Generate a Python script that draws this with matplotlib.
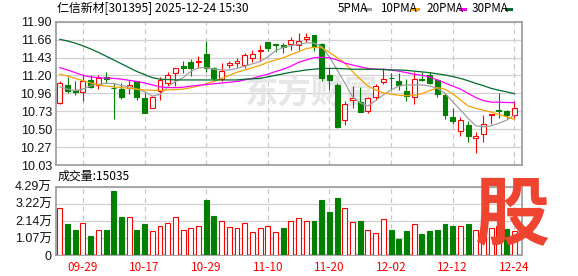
import numpy as np
import matplotlib.pyplot as plt
from matplotlib.lines import Line2D

plt.rcParams['font.family'] = ['Liberation Sans', 'Noto Sans CJK SC']

W, H = 578, 276

# daily OHLC, 2025-09-24 .. 2025-12-24
opens = [10.84, 11.07, 11.01, 10.98, 11.14, 11.07, 11.18, 11.04, 11.02, 11.03,
         11.12, 10.91, 10.78, 11.00, 11.10, 11.23, 11.32, 11.37, 11.37, 11.48,
         11.29, 11.15, 11.33, 11.36, 11.34, 11.42, 11.52, 11.64, 11.61, 11.60,
         11.61, 11.60, 11.67, 11.72, 11.61, 11.20, 11.08, 10.62, 10.88, 10.85,
         10.74, 10.92, 11.11, 11.17, 11.12, 10.99, 10.92, 11.15, 11.20, 11.14,
         10.94, 10.65, 10.48, 10.55, 10.38, 10.43, 10.68, 10.75, 10.73, 10.68]
closes = [11.10, 11.00, 10.98, 11.13, 11.05, 11.16, 11.15, 11.03, 10.92, 11.07,
          10.92, 10.71, 10.92, 11.14, 11.21, 11.29, 11.30, 11.30, 11.39, 11.30,
          11.16, 11.26, 11.36, 11.39, 11.47, 11.48, 11.53, 11.56, 11.60, 11.57,
          11.66, 11.65, 11.70, 11.58, 11.17, 11.14, 10.53, 10.82, 10.90, 10.72,
          10.91, 11.06, 11.15, 11.16, 11.07, 10.93, 11.15, 11.14, 11.10, 10.96,
          10.68, 10.61, 10.62, 10.41, 10.41, 10.57, 10.69, 10.73, 10.68, 10.78]
highs = [11.13, 11.18, 11.13, 11.20, 11.20, 11.20, 11.24, 11.10, 11.10, 11.14,
         11.13, 10.97, 10.93, 11.18, 11.25, 11.29, 11.39, 11.41, 11.45, 11.65,
         11.31, 11.36, 11.39, 11.42, 11.49, 11.53, 11.60, 11.64, 11.61, 11.62,
         11.70, 11.75, 11.75, 11.73, 11.62, 11.29, 11.10, 10.87, 11.06, 11.05,
         10.92, 11.09, 11.29, 11.23, 11.23, 11.15, 11.24, 11.25, 11.25, 11.15,
         10.97, 10.78, 10.65, 10.60, 10.46, 10.68, 10.70, 10.97, 10.75, 10.86]
lows = [10.83, 10.97, 10.94, 10.86, 11.04, 11.02, 11.10, 10.63, 10.89, 10.96,
        10.88, 10.71, 10.78, 10.88, 11.05, 11.06, 11.23, 11.19, 11.30, 11.25,
        11.12, 11.12, 11.29, 11.31, 11.29, 11.38, 11.39, 11.52, 11.50, 11.49,
        11.53, 11.53, 11.63, 11.52, 11.12, 11.01, 10.51, 10.55, 10.77, 10.72,
        10.71, 10.88, 11.09, 11.01, 11.01, 10.86, 10.83, 11.12, 11.09, 10.92,
        10.63, 10.57, 10.41, 10.33, 10.19, 10.33, 10.57, 10.64, 10.63, 10.64]

ma5 = [11.05, 11.02, 11.00, 11.02, 11.065, 11.085, 11.095, 11.095, 11.065, 11.05,
       11.02, 10.985, 10.93, 10.95, 11.05, 11.12, 11.17, 11.25, 11.30, 11.30,
       11.28, 11.27, 11.27, 11.29, 11.32, 11.35, 11.38, 11.44, 11.52, 11.565,
       11.59, 11.60, 11.625, 11.62, 11.575, 11.44, 11.27, 11.10, 10.92, 10.84,
       10.80, 10.87, 10.945, 11.01, 11.06, 11.075, 11.075, 11.075, 11.06, 11.03,
       10.965, 10.855, 10.75, 10.64, 10.54, 10.53, 10.54, 10.575, 10.615, 10.68]
ma10 = [11.217, 11.19, 11.16, 11.13, 11.10, 11.075, 11.06, 11.05, 11.04, 11.03,
        11.02, 11.01, 11.005, 11.005, 11.01, 11.015, 11.02, 11.04, 11.06, 11.09,
        11.12, 11.16, 11.20, 11.24, 11.27, 11.30, 11.33, 11.37, 11.40, 11.43,
        11.47, 11.51, 11.55, 11.565, 11.56, 11.50, 11.43, 11.36, 11.25, 11.15,
        11.06, 11.01, 10.97, 10.955, 10.94, 10.935, 10.94, 10.96, 11.00, 11.04,
        11.02, 10.96, 10.88, 10.80, 10.77, 10.745, 10.72, 10.69, 10.66, 10.625]
ma20 = [11.30, 11.27, 11.235, 11.20, 11.18, 11.17, 11.165, 11.16, 11.15, 11.135,
        11.12, 11.10, 11.075, 11.05, 11.04, 11.04, 11.045, 11.06, 11.07, 11.08,
        11.09, 11.10, 11.11, 11.12, 11.14, 11.16, 11.19, 11.215, 11.25, 11.28,
        11.32, 11.37, 11.40, 11.43, 11.435, 11.43, 11.40, 11.36, 11.335, 11.31,
        11.29, 11.28, 11.28, 11.27, 11.255, 11.235, 11.215, 11.20, 11.18, 11.14,
        11.10, 11.06, 11.02, 10.965, 10.91, 10.87, 10.85, 10.85, 10.845, 10.845]
ma30 = [11.67, 11.648, 11.62, 11.585, 11.545, 11.50, 11.45, 11.40, 11.35, 11.30,
        11.25, 11.21, 11.17, 11.15, 11.145, 11.14, 11.14, 11.14, 11.14, 11.14,
        11.14, 11.14, 11.14, 11.14, 11.15, 11.155, 11.16, 11.18, 11.20, 11.22,
        11.24, 11.255, 11.27, 11.28, 11.29, 11.29, 11.29, 11.285, 11.28, 11.28,
        11.28, 11.28, 11.275, 11.27, 11.27, 11.265, 11.255, 11.245, 11.235, 11.22,
        11.205, 11.185, 11.16, 11.13, 11.095, 11.065, 11.03, 11.005, 10.985, 10.96]

# volume in 万手, colour R = up day, G = down day
vol = [2.93, 1.95, 1.57, 1.99, 1.19, 1.57, 1.57, 4.02, 2.39, 2.37,
       1.57, 1.95, 1.51, 1.82, 1.99, 2.37, 1.55, 1.70, 1.82, 3.46,
       2.45, 2.11, 1.76, 1.70, 1.99, 1.44, 1.70, 1.82, 1.44, 1.70,
       2.11, 2.32, 2.14, 2.14, 3.46, 2.72, 3.60, 2.93, 2.05, 2.14,
       1.57, 1.36, 2.26, 1.57, 1.01, 1.51, 1.93, 1.32, 1.51, 1.57,
       1.95, 1.82, 1.82, 1.95, 1.60, 1.59, 1.70, 1.80, 1.65, 1.50]
vol_dir = "RGGRGRGGGRGGRRRRRRRGGRRRRRRRRGRRRGGGGRRGRRRGGGRGGGGGRGRRRRGR"

tick_idx = [3, 11, 19, 27, 35, 43, 51, 59]
tick_lbl = ['09-29', '10-17', '10-29', '11-10', '11-20', '12-02', '12-12', '12-24']
price_lbl = ['10.03', '10.27', '10.50', '10.73', '10.96', '11.20', '11.43', '11.66', '11.90']
vol_ticks = [0, 1.07, 2.14, 3.22, 4.29]
vol_lbl = ['0', '1.07万', '2.14万', '3.22万', '4.29万']

RED = '#ff0000'
GRN = '#008000'
BORDER = '#9a9a9a'
GRID = '#d0d0d0'

def fx(x):
    return x / W

def fy(y):
    return 1 - y / H

fig = plt.figure(figsize=(W / 100, H / 100), dpi=100)
ax = fig.add_axes([fx(56), fy(165), (522 - 56) / W, (165 - 21.7) / H])
ax2 = fig.add_axes([fx(56), fy(255), (522 - 56) / W, (255 - 186.7) / H])

x = np.arange(len(closes))
o = np.array(opens); c = np.array(closes)
up = c >= o
col = np.where(up, RED, GRN)
face = np.where(up, 'white', GRN)

# price panel
ax.vlines(x, lows, highs, colors=col, lw=0.8, zorder=3)
body = np.maximum(np.abs(c - o), 0.004)
ax.bar(x, body, bottom=np.minimum(o, c), width=0.64, color=face, edgecolor=col,
       linewidth=0.8, zorder=4)
ax.plot(x, ma5, color='#a0a0a0', lw=0.9, zorder=5)
ax.plot(x, ma10, color='#f5a300', lw=0.9, zorder=5)
ax.plot(x, ma20, color='#ff00ff', lw=0.9, zorder=5)
ax.plot(x, ma30, color='#006b2d', lw=0.9, zorder=5)
ax.text(fx(311), fy(94), '东方财富', transform=fig.transFigure, ha='center', va='center',
        fontsize=24, color='#e6e6e6', family=['Noto Sans CJK SC'], fontweight='bold', zorder=1)

price_ticks = np.linspace(10.03, 11.90, 9)
ax.set_ylim(10.03, 11.90)
ax.set_yticks(price_ticks)
ax.set_yticklabels(price_lbl)

# volume panel
vcol = [RED if d == 'R' else GRN for d in vol_dir]
vface = ['white' if d == 'R' else GRN for d in vol_dir]
ax2.bar(x, vol, width=0.64, color=vface, edgecolor=vcol, linewidth=0.8, zorder=3)
ax2.set_ylim(0, 4.29)
ax2.set_yticks(vol_ticks)
ax2.set_yticklabels(vol_lbl)

for a in (ax, ax2):
    a.set_xlim(-0.5, 60.0)
    a.set_xticks(tick_idx)
    a.grid(axis='y', color=GRID, lw=0.9, zorder=0)
    for t in tick_idx:
        a.axvline(t, color='#c8c8c8', lw=0.9, ls=(0, (4, 3)), zorder=0)
    a.tick_params(length=0, labelsize=9, pad=3, labelcolor='#111111')
    for s in a.spines.values():
        s.set_color(BORDER)
        s.set_linewidth(1.2)
    a.set_axisbelow(True)

ax.set_xticklabels([])
ax2.set_xticklabels(tick_lbl, color=RED, family=['Noto Sans CJK SC'], fontsize=8.5)
ax2.tick_params(axis='x', pad=4)

# header texts
cjk = ['Noto Sans CJK SC']
fig.text(fx(57), fy(8.5), '仁信新材[301395] 2025-12-24 15:30', ha='left', va='center',
         fontsize=8.6, family=cjk)
fig.text(fx(58), fy(176), '成交量:15035', ha='left', va='center', fontsize=8.6, family=cjk)

legend = [('5PMA', 338, '#a0a0a0', 365), ('10PMA', 380, '#f5a300', 413),
          ('20PMA', 426, '#ff00ff', 460), ('30PMA', 472, '#006b2d', 506)]
for name, lx, lc, dx in legend:
    fig.text(fx(lx), fy(8.5), name, ha='left', va='center', fontsize=8.4, family=cjk)
    fig.add_artist(Line2D([fx(dx), fx(dx + 5)], [fy(8.5), fy(8.5)], color=lc, lw=2.2,
                          transform=fig.transFigure))

# app logo
fig.text(fx(512), fy(216), '股', ha='center', va='center', fontsize=54, color='#ee4430',
         family=cjk, fontweight='heavy', zorder=10)

plt.savefig('out.png', dpi=100)
